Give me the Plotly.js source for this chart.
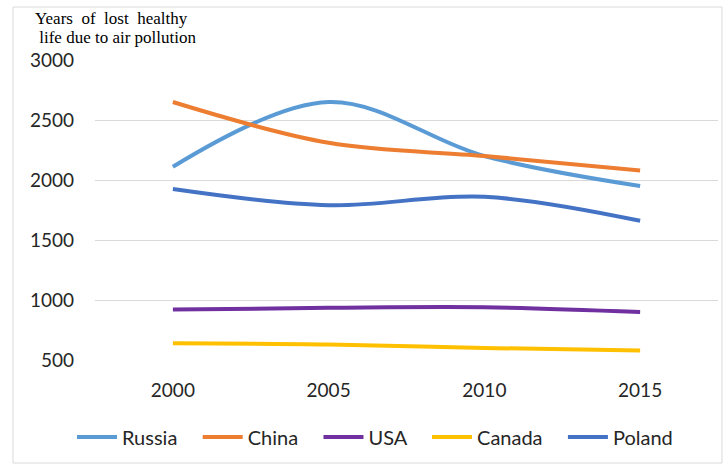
<!DOCTYPE html>
<html><head><meta charset="utf-8">
<script src="https://cdn.plot.ly/plotly-3.0.1.min.js"></script>
<style>html,body{margin:0;padding:0;background:#fff;}#chart{width:724px;height:470px;}</style>
</head><body><div id="chart"></div>
<script>
const years = ['2000', '2005', '2010', '2015'];
const russia = [2110, 2650, 2200, 1950];
const china = [2650, 2310, 2200, 2080];
const usa = [920, 935, 940, 900];
const canada = [640, 630, 600, 580];
const poland = [1925, 1790, 1860, 1660];
const seriesNames = ['Russia', 'China', 'USA', 'Canada', 'Poland'];
const seriesData = [russia, china, usa, canada, poland];
const seriesColors = ['#5B9BD5', '#ED7D31', '#7030A0', '#FFC000', '#4472C4'];
const yTicks = [500, 1000, 1500, 2000, 2500, 3000];
const titleLines = ['Years  of  lost  healthy', ' life due to air pollution'];

const traces = seriesNames.map((n, i) => ({
  type: 'scatter', mode: 'lines', name: n + '   ', x: years, y: seriesData[i],
  line: {color: seriesColors[i], width: 4, shape: 'spline', smoothing: 1}
}));

const L = 95, R = 6, T = 60, B = 110, W = 724, H = 470;
const pw = W - L - R, ph = H - T - B;
const px = p => (p - L) / pw;
const py = p => (H - B - p) / ph;

const titleFont = {family: '"Liberation Serif", "DejaVu Serif", serif', size: 17, color: '#000'};
const layout = {
  width: W, height: H,
  margin: {l: L, r: R, t: T, b: B},
  paper_bgcolor: '#fff', plot_bgcolor: '#fff',
  font: {family: 'Lato, "Open Sans", sans-serif', color: '#262626'},
  xaxis: {type: 'category', range: [-0.5, 3.5], showgrid: false, zeroline: false, showline: false,
    ticks: '', tickfont: {size: 19, color: '#262626'}, ticklabelstandoff: 17},
  yaxis: {range: [500, 3000], tickvals: yTicks, ticktext: yTicks.map(String), showgrid: true,
    gridcolor: '#d9d9d9', gridwidth: 1, zeroline: false, showline: false, ticks: '',
    tickfont: {size: 19, color: '#262626'}, ticklabelstandoff: 20},
  showlegend: true,
  legend: {orientation: 'h', x: px(383), xanchor: 'center', y: py(437), yanchor: 'middle',
    font: {size: 20, color: '#262626'}, itemwidth: 40, tracegroupgap: 0, bgcolor: 'rgba(0,0,0,0)'},
  annotations: [
    {xref: 'paper', yref: 'paper', x: px(33), y: py(18), xanchor: 'left', yanchor: 'middle',
     showarrow: false, text: titleLines[0], font: titleFont},
    {xref: 'paper', yref: 'paper', x: px(33), y: py(37), xanchor: 'left', yanchor: 'middle',
     showarrow: false, text: titleLines[1], font: titleFont}
  ],
  shapes: [{
    type: 'rect', xref: 'paper', yref: 'paper', x0: px(13), x1: px(722), y0: py(463), y1: py(7),
    line: {color: '#d9d9d9', width: 1}, layer: 'below'
  }]
};
Plotly.newPlot('chart', traces, layout, {displayModeBar: false, staticPlot: true});
</script></body></html>
